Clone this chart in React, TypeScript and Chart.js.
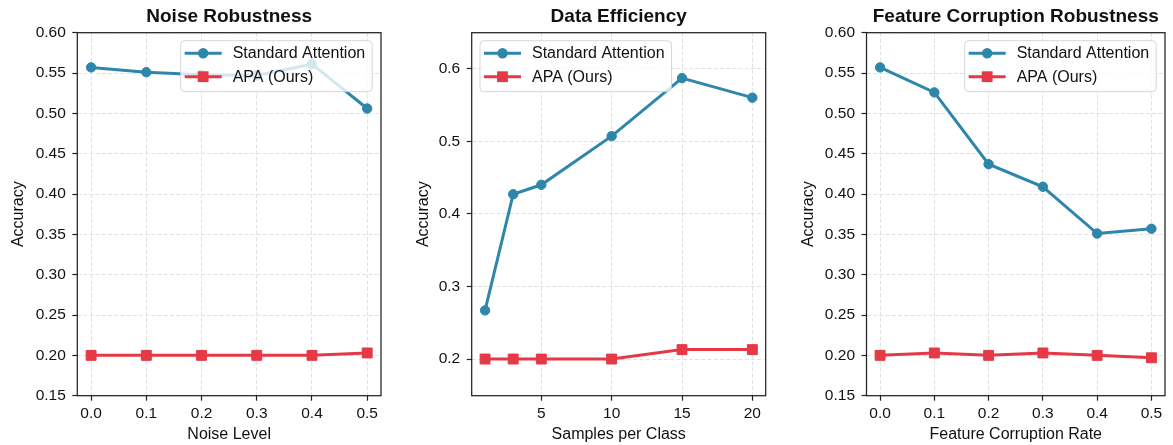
import React, { useEffect, useRef } from "react";
import { Chart, registerables } from "chart.js";

Chart.register(...registerables);

// ---------------- data ----------------
const noiseLevels = [0.0, 0.1, 0.2, 0.3, 0.4, 0.5];
const noiseStandard = [0.557, 0.551, 0.548, 0.547, 0.561, 0.506];
const noiseAPA = [0.2, 0.2, 0.2, 0.2, 0.2, 0.203];

const samplesPerClass = [1, 3, 5, 10, 15, 20];
const samplesStandard = [0.267, 0.427, 0.44, 0.507, 0.587, 0.56];
const samplesAPA = [0.2, 0.2, 0.2, 0.2, 0.213, 0.213];

const corruptionRates = [0.0, 0.1, 0.2, 0.3, 0.4, 0.5];
const corruptionStandard = [0.557, 0.526, 0.437, 0.409, 0.351, 0.357];
const corruptionAPA = [0.2, 0.203, 0.2, 0.203, 0.2, 0.197];

const rateTicks = [0.0, 0.1, 0.2, 0.3, 0.4, 0.5];
const sampleTicks = [5, 10, 15, 20];
const accTicksFine = [0.15, 0.2, 0.25, 0.3, 0.35, 0.4, 0.45, 0.5, 0.55, 0.6];
const accTicksCoarse = [0.2, 0.3, 0.4, 0.5, 0.6];

const seriesNames = ["Standard Attention", "APA (Ours)"];
const titles = ["Noise Robustness", "Data Efficiency", "Feature Corruption Robustness"];
const xLabels = ["Noise Level", "Samples per Class", "Feature Corruption Rate"];
const yLabel = "Accuracy";

// ---------------- style ----------------
const BLUE = "#2E86AB";
const RED = "#E63946";
const FONT = "'Liberation Sans', Arial, Helvetica, sans-serif";
const TEXT = "#111111";
const SPINE = "#222222";
const GRID = "#e1e1e1";

Chart.defaults.font.family = FONT;
Chart.defaults.color = TEXT;

type PanelCfg = {
  title: string;
  xLabel: string;
  xs: number[];
  standard: number[];
  apa: number[];
  xTicks: number[];
  yTicks: number[];
  xMin: number;
  xMax: number;
  yMin: number;
  yMax: number;
  xFmt: (v: number) => string;
  yFmt: (v: number) => string;
  canvasLeft: number;
  canvasWidth: number;
  yAxisWidth: number;
  rightPad: number;
  yTitlePad: number;
  legendSide: "left" | "right";
};

const H = 445;

const panels: PanelCfg[] = [
  {
    title: titles[0],
    xLabel: xLabels[0],
    xs: noiseLevels,
    standard: noiseStandard,
    apa: noiseAPA,
    xTicks: rateTicks,
    yTicks: accTicksFine,
    xMin: -0.025,
    xMax: 0.525,
    yMin: 0.15,
    yMax: 0.6,
    xFmt: (v) => v.toFixed(1),
    yFmt: (v) => v.toFixed(2),
    canvasLeft: 0,
    canvasWidth: 390,
    yAxisWidth: 77.3,
    rightPad: 9,
    yTitlePad: 9,
    legendSide: "right",
  },
  {
    title: titles[1],
    xLabel: xLabels[1],
    xs: samplesPerClass,
    standard: samplesStandard,
    apa: samplesAPA,
    xTicks: sampleTicks,
    yTicks: accTicksCoarse,
    xMin: 0.05,
    xMax: 20.95,
    yMin: 0.1495,
    yMax: 0.6495,
    xFmt: (v) => String(v),
    yFmt: (v) => v.toFixed(1),
    canvasLeft: 390,
    canvasWidth: 390,
    yAxisWidth: 81.7,
    rightPad: 14.3,
    yTitlePad: 23.5,
    legendSide: "left",
  },
  {
    title: titles[2],
    xLabel: xLabels[2],
    xs: corruptionRates,
    standard: corruptionStandard,
    apa: corruptionAPA,
    xTicks: rateTicks,
    yTicks: accTicksFine,
    xMin: -0.025,
    xMax: 0.525,
    yMin: 0.15,
    yMax: 0.6,
    xFmt: (v) => v.toFixed(1),
    yFmt: (v) => v.toFixed(2),
    canvasLeft: 780,
    canvasWidth: 393,
    yAxisWidth: 86.5,
    rightPad: 2.5,
    yTitlePad: 18.5,
    legendSide: "right",
  },
];

const framePlugin = {
  id: "frameLegend",
  afterDatasetsDraw(chart: any, _args: any, opts: any) {
    const { ctx, chartArea: a } = chart;
    ctx.save();
    // spines
    ctx.strokeStyle = SPINE;
    ctx.lineWidth = 1.25;
    ctx.setLineDash([]);
    ctx.strokeRect(a.left, a.top, a.right - a.left, a.bottom - a.top);

    // legend
    const fontSize = 16;
    ctx.font = `${fontSize}px ${FONT}`;
    const items = chart.data.datasets.map((d: any) => ({
      label: d.label,
      color: d.borderColor,
      style: d.pointStyle,
    }));
    const textW = Math.max(...items.map((it: any) => ctx.measureText(it.label).width));
    const w = 52 + textW + 7;
    const h = 51;
    const left = opts.side === "right" ? a.right - 8.8 - w : a.left + 8.3;
    const top = a.top + 8;
    const r = 4;
    ctx.beginPath();
    ctx.moveTo(left + r, top);
    ctx.lineTo(left + w - r, top);
    ctx.arcTo(left + w, top, left + w, top + r, r);
    ctx.lineTo(left + w, top + h - r);
    ctx.arcTo(left + w, top + h, left + w - r, top + h, r);
    ctx.lineTo(left + r, top + h);
    ctx.arcTo(left, top + h, left, top + h - r, r);
    ctx.lineTo(left, top + r);
    ctx.arcTo(left, top, left + r, top, r);
    ctx.closePath();
    ctx.fillStyle = "rgba(255,255,255,0.8)";
    ctx.fill();
    ctx.strokeStyle = "rgba(204,204,204,0.8)";
    ctx.lineWidth = 1;
    ctx.stroke();

    const rows = [top + 12.6, top + 36];
    items.forEach((it: any, i: number) => {
      const y = rows[i];
      ctx.strokeStyle = it.color;
      ctx.lineWidth = 3;
      ctx.beginPath();
      ctx.moveTo(left + 4, y);
      ctx.lineTo(left + 41, y);
      ctx.stroke();
      ctx.fillStyle = it.color;
      const cx = left + 22.5;
      if (it.style === "rect") {
        const s = 5.4;
        ctx.fillRect(cx - s, y - s, 2 * s, 2 * s);
      } else {
        ctx.beginPath();
        ctx.arc(cx, y, 5.2, 0, Math.PI * 2);
        ctx.fill();
      }
      ctx.fillStyle = TEXT;
      ctx.textAlign = "left";
      ctx.textBaseline = "middle";
      ctx.fillText(it.label, left + 52, y + 0.5);
    });
    ctx.restore();
  },
};

function Panel({ cfg }: { cfg: PanelCfg }) {
  const ref = useRef<HTMLCanvasElement>(null);
  useEffect(() => {
    const canvas = ref.current;
    if (!canvas) return;
    const toPts = (ys: number[]) => cfg.xs.map((x, i) => ({ x, y: ys[i] }));
    const chart = new Chart(canvas, {
      type: "line",
      data: {
        datasets: [
          {
            label: seriesNames[0],
            data: toPts(cfg.standard),
            borderColor: BLUE,
            backgroundColor: BLUE,
            borderWidth: 3,
            pointStyle: "circle",
            pointRadius: 4.7,
            pointBorderWidth: 1,
            pointBorderColor: BLUE,
            pointBackgroundColor: BLUE,
            tension: 0,
          },
          {
            label: seriesNames[1],
            data: toPts(cfg.apa),
            borderColor: RED,
            backgroundColor: RED,
            borderWidth: 3,
            pointStyle: "rect",
            pointRadius: 7,
            pointBorderWidth: 1,
            pointBorderColor: RED,
            pointBackgroundColor: RED,
            tension: 0,
          },
        ],
      },
      options: {
        responsive: false,
        animation: false,
        devicePixelRatio: 1,
        layout: { padding: { left: 0, right: cfg.rightPad, top: 0, bottom: 0 } },
        plugins: {
          legend: { display: false },
          tooltip: { enabled: false },
          title: {
            display: true,
            text: cfg.title,
            fullSize: false,
            color: TEXT,
            font: { size: 19, weight: "bold", family: FONT },
            padding: { top: 5.3, bottom: 4.6 },
          },
          frameLegend: { side: cfg.legendSide },
        } as any,
        scales: {
          x: {
            type: "linear",
            min: cfg.xMin,
            max: cfg.xMax,
            afterBuildTicks: (s: any) => {
              s.ticks = cfg.xTicks.map((v) => ({ value: v }));
            },
            afterFit: (s: any) => {
              s.height = H - 395.7;
            },
            ticks: {
              autoSkip: false,
              maxRotation: 0,
              padding: 3.5,
              color: TEXT,
              font: { size: 15.5, family: FONT },
              callback: (v: any) => cfg.xFmt(Number(v)),
            },
            grid: {
              color: GRID,
              lineWidth: 1,
              drawTicks: true,
              tickLength: 5,
              tickColor: SPINE,
              tickWidth: 1.2,
              tickBorderDash: [],
            },
            border: { display: false, dash: [4, 2.2] },
            title: {
              display: true,
              text: cfg.xLabel,
              color: TEXT,
              font: { size: 16, family: FONT },
              padding: { top: 0, bottom: 1.3 },
            },
          },
          y: {
            type: "linear",
            min: cfg.yMin,
            max: cfg.yMax,
            afterBuildTicks: (s: any) => {
              s.ticks = cfg.yTicks.map((v) => ({ value: v }));
            },
            afterFit: (s: any) => {
              s.width = cfg.yAxisWidth;
            },
            ticks: {
              autoSkip: false,
              padding: 6.5,
              color: TEXT,
              font: { size: 15.5, family: FONT },
              callback: (v: any) => cfg.yFmt(Number(v)),
            },
            grid: {
              color: GRID,
              lineWidth: 1,
              drawTicks: true,
              tickLength: 5,
              tickColor: SPINE,
              tickWidth: 1.2,
              tickBorderDash: [],
            },
            border: { display: false, dash: [4, 2.2] },
            title: {
              display: true,
              text: yLabel,
              color: TEXT,
              font: { size: 16, family: FONT },
              padding: { top: cfg.yTitlePad, bottom: 0 },
            },
          },
        },
      } as any,
      plugins: [framePlugin],
    });
    return () => chart.destroy();
  }, [cfg]);
  return (
    <canvas
      ref={ref}
      width={cfg.canvasWidth}
      height={H}
      style={{
        position: "absolute",
        left: cfg.canvasLeft,
        top: 0,
        width: cfg.canvasWidth,
        height: H,
      }}
    />
  );
}

export default function App() {
  return (
    <div
      style={{
        position: "fixed",
        left: 0,
        top: 0,
        width: 1173,
        height: H,
        background: "#ffffff",
        overflow: "hidden",
      }}
    >
      {panels.map((p, i) => (
        <Panel key={i} cfg={p} />
      ))}
    </div>
  );
}
